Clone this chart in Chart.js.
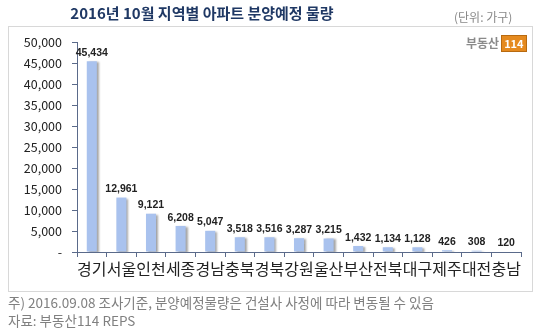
<!DOCTYPE html>
<html><head><meta charset="utf-8">
<script src="https://cdn.jsdelivr.net/npm/chart.js@4"></script>
<style>
html,body{margin:0;padding:0;background:#fff;}
#wrap{position:relative;width:540px;height:330px;overflow:hidden;font-family:"Noto Sans CJK KR","Noto Sans",sans-serif;}
#c{position:absolute;left:0;top:0;}
.box{position:absolute;left:8px;top:26px;width:525px;height:266px;border:1px solid #d8d8d8;box-sizing:border-box;}
.title{position:absolute;left:0;width:404px;top:2px;text-align:center;font-weight:bold;font-size:15px;color:#1f3864;}
.unit{position:absolute;left:454px;top:8px;font-size:12px;color:#888;}
.logo{position:absolute;left:466px;top:34px;font-size:12px;font-weight:bold;color:#8a8a8a;}
.logo span{display:inline-block;background:#e58a1f;color:#fff;padding:0 2px;margin-left:2px;font-size:11px;line-height:15px;border:1px solid #b86a10;}
.note{position:absolute;left:8px;font-size:13.5px;color:#808080;white-space:nowrap;}
</style></head>
<body><div id="wrap">
<div class="box"></div>
<canvas id="c" width="540" height="330"></canvas>
<div class="title">2016년 10월 지역별 아파트 분양예정 물량</div>
<div class="unit">(단위: 가구)</div>
<div class="logo">부동산<span>114</span></div>
<div class="note" style="top:292px">주) 2016.09.08 조사기준, 분양예정물량은 건설사 사정에 따라 변동될 수 있음</div>
<div class="note" style="top:310px">자료: 부동산114 REPS</div>
</div>
<script>
const categories = ["경기","서울","인천","세종","경남","충북","경북","강원","울산","부산","전북","대구","제주","대전","충남"];
const units = [45434,12961,9121,6208,5047,3518,3516,3287,3215,1432,1134,1128,426,308,120];
const yTicks = [0,5000,10000,15000,20000,25000,30000,35000,40000,45000,50000];

const fmt = v => v.toLocaleString('en-US');
const axisColor = '#5a6a8a';

const shadowPlugin = {
  id:'shadow',
  beforeDatasetsDraw(chart){const c=chart.ctx;c.save();c.shadowColor='rgba(0,0,0,0.35)';c.shadowOffsetX=2;c.shadowOffsetY=1;c.shadowBlur=2;},
  afterDatasetsDraw(chart){chart.ctx.restore();}
};
const labelPlugin = {
  id:'vals',
  afterDatasetsDraw(chart){
    const c=chart.ctx, meta=chart.getDatasetMeta(0);
    c.save();c.font='bold 10.5px "Liberation Sans",Arial,sans-serif';c.fillStyle='#222';c.textAlign='center';c.textBaseline='bottom';
    meta.data.forEach((el,i)=>{c.fillText(fmt(units[i]),el.x,el.y-3);});
    c.restore();
  }
};

new Chart(document.getElementById('c'),{
  type:'bar',
  data:{labels:categories,datasets:[{data:units,backgroundColor:'#a9c2ee',borderWidth:0,barPercentage:0.34,categoryPercentage:1}]},
  options:{
    responsive:false,animation:false,
    layout:{padding:{top:42,right:19,bottom:48,left:0}},
    plugins:{legend:{display:false},tooltip:{enabled:false}},
    scales:{
      y:{min:0,max:50000,
        afterBuildTicks(s){s.ticks=yTicks.map(v=>({value:v}));},
        afterFit(s){s.width=77;},
        ticks:{callback:v=>v===0?'-':fmt(v),color:'#222',font:{size:12.5,family:'"Noto Sans CJK KR","Noto Sans",sans-serif'},padding:10},
        grid:{drawOnChartArea:false,drawTicks:true,tickLength:5,color:axisColor},
        border:{color:axisColor,width:1}
      },
      x:{
        afterFit(s){s.height=30;},
        ticks:{color:'#222',font:{size:16,family:'"Noto Sans CJK KR",sans-serif'},autoSkip:false,maxRotation:0,padding:2},
        grid:{drawOnChartArea:false,drawTicks:true,tickLength:5,offset:true,color:axisColor},
        border:{color:axisColor,width:1}
      }
    }
  },
  plugins:[shadowPlugin,labelPlugin]
});
</script>
</body></html>
